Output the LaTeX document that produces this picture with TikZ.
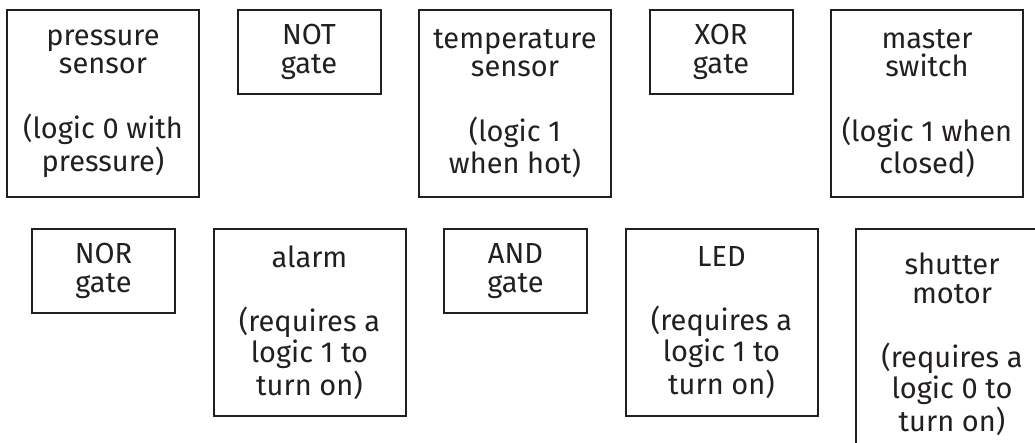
\documentclass[tikz,border=0pt]{standalone}
\usepackage{fontspec}
\setmainfont{Fira Sans}
\usepackage{tikz}
\usetikzlibrary{positioning}
\usepackage{xcolor}
\definecolor{ink}{HTML}{231F20}

\begin{document}
\begin{tikzpicture}[
    x=0.5pt, y=-0.5pt,
    every node/.style={font=\fontsize{14.5}{14.25}\selectfont, text=ink},
    part/.style={rectangle, draw=ink, line width=1pt, inner sep=0pt,
                 minimum width=96pt, minimum height=93.5pt, align=center},
    gatebox/.style={rectangle, draw=ink, line width=1pt, inner sep=0pt,
                    minimum width=71.5pt, minimum height=42pt, align=center},
    gap/.style={right=18.25pt of #1.north east, anchor=north west}
]
    \clip (0,0) rectangle (1035,443);

    % top row
    \node[part, anchor=north west] (press) at (6,9)
        {pressure\\sensor\\[18pt](logic 0 with\\pressure)};
    \node[gatebox, gap=press] (not) {NOT\\gate};
    \node[part, gap=not] (temp) {temperature\\sensor\\[18pt](logic 1\\when hot)};
    \node[gatebox, gap=temp] (xor) {XOR\\gate};
    \node[part, gap=xor] (master) {master\\switch\\[18pt](logic 1 when\\closed)};

    % bottom row
    \node[gatebox, anchor=north west] (nor) at (31,228) {NOR\\gate};
    \node[part, gap=nor] (alarm) {alarm\\[18pt](requires a\\logic 1 to\\turn on)};
    \node[gatebox, gap=alarm] (and) {AND\\gate};
    \node[part, gap=and] (led) {LED\\[18pt](requires a\\logic 1 to\\turn on)};
    % runs off the bottom edge
    \node[part, minimum height=0pt, inner ysep=12pt, gap=led] (motor)
        {shutter\\motor\\[18pt](requires a\\logic 0 to\\turn on)};
\end{tikzpicture}
\end{document}
